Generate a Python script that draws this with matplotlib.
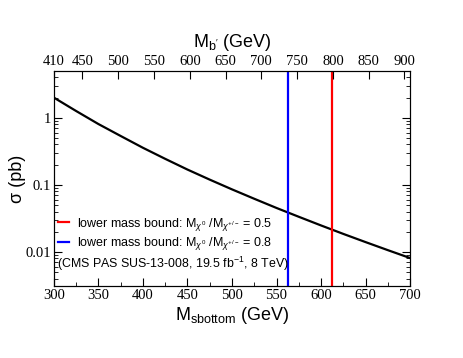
import matplotlib
matplotlib.use("Agg")
import matplotlib.pyplot as plt
from matplotlib.ticker import MultipleLocator, LogLocator, FixedLocator, NullFormatter

plt.rcParams['mathtext.fontset'] = 'custom'
plt.rcParams['mathtext.rm'] = 'Liberation Sans'
plt.rcParams['mathtext.it'] = 'Liberation Sans:italic'

# sbottom pair production cross section, 8 TeV
m_sbottom = [300, 325, 350, 375, 400, 425, 450, 475, 500,
             525, 550, 575, 600, 625, 650, 675, 700]
sigma_pb = [2.0, 1.262, 0.807, 0.5355, 0.357, 0.2442, 0.169, 0.1196, 0.0856,
            0.0620, 0.0452, 0.0334, 0.0248, 0.01855, 0.0140, 0.01062, 0.0081]

# lower mass bounds (sbottom mass)
bound_05 = 612.5
bound_08 = 562.5

# top axis, b' mass
mbp_ticks = [410, 450, 500, 550, 600, 650, 700, 750, 800, 850, 900]
mbp_lim = (410, 908)

fig = plt.figure(figsize=(4.64, 3.58), dpi=100)
ax = fig.add_axes([0.116, 0.201, 0.768, 0.601])

ax.plot(m_sbottom, sigma_pb, color='black', lw=1.6)
l1, = ax.plot([bound_05, bound_05], [1e-4, 10], color='red', lw=1.6)
l2, = ax.plot([bound_08, bound_08], [1e-4, 10], color='blue', lw=1.6)

ax.set_yscale('log')
ax.set_xlim(300, 700)
ax.set_ylim(0.0031, 5.0)

serif = 'Liberation Serif'
sans = 'Liberation Sans'

ax.xaxis.set_major_locator(MultipleLocator(50))
ax.xaxis.set_minor_locator(MultipleLocator(25))
ax.yaxis.set_minor_locator(LogLocator(base=10, subs=range(2, 10), numticks=10))
ax.yaxis.set_minor_formatter(NullFormatter())
ax.set_yticks([0.01, 0.1, 1])
ax.set_yticklabels(['0.01', '0.1', '1'])
ax.tick_params(which='both', direction='in', right=True, top=False,
               labelsize=10.5, pad=2)
ax.tick_params(which='major', length=6)
ax.tick_params(which='minor', length=3)
for lab in ax.get_xticklabels() + ax.get_yticklabels():
    lab.set_family(serif)

ax.set_xlabel(r'M$_{\mathrm{sbottom}}$ (GeV)', family=sans, fontsize=13, labelpad=2)
ax.set_ylabel('σ (pb)', family=sans, fontsize=13)
ax.yaxis.set_label_coords(-0.077, 0.5)

top = ax.twiny()
top.set_xlim(*mbp_lim)
top.xaxis.set_major_locator(FixedLocator(mbp_ticks))
top.tick_params(direction='in', length=6, labelsize=10.5, pad=2)
for lab in top.get_xticklabels():
    lab.set_family(serif)
top.set_xlabel(r"M$_{\mathrm{b'}}$ (GeV)", family=sans, fontsize=13, labelpad=6)

leg = ax.legend([l1, l2],
                [r'lower mass bound: M$_{\chi^0}$ /M$_{\chi^{+/-}}$ = 0.5',
                 r'lower mass bound: M$_{\chi^0}$ /M$_{\chi^{+/-}}$ = 0.8'],
                loc='lower left', bbox_to_anchor=(-0.02, 0.105), frameon=False,
                handlelength=0.9, handletextpad=0.6, labelspacing=0.2,
                prop={'family': sans, 'size': 9})
ax.text(0.008, 0.105, r'(CMS PAS SUS-13-008, 19.5 fb$^{-1}$, 8 TeV)',
        transform=ax.transAxes, family=sans, fontsize=8.9, va='center')

fig.savefig('out.png', dpi=100)
